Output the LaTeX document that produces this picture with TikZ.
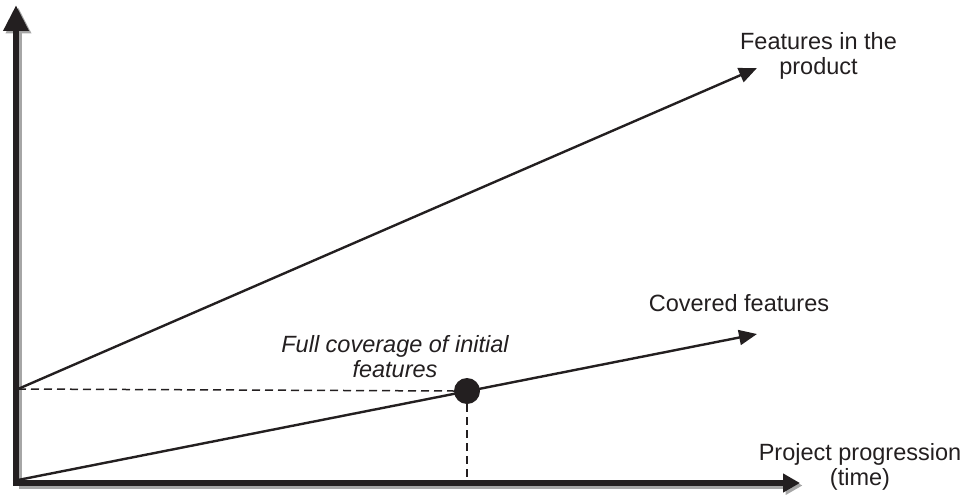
\documentclass[tikz,border=0pt]{standalone}
\usepackage{fontspec}
\setmainfont{Liberation Sans}
\usetikzlibrary{arrows.meta}
\definecolor{ink}{HTML}{231F20}
\begin{document}
\begin{tikzpicture}[x=1pt,y=-1pt,
  series/.style={draw=ink,line width=2.4pt,-{Triangle[length=18pt,width=15pt]}},
  guide/.style={draw=ink,line width=1.5pt,dash pattern=on 8pt off 5pt},
  lbl/.style={font=\fontsize{23.5}{25}\selectfont,align=center,text=ink,inner sep=0pt},
  ilbl/.style={font=\fontsize{23.5}{25}\selectfont\itshape,align=center,text=ink,inner sep=0pt}]
\useasboundingbox (0,0) rectangle (974,495);
% coordinates
\coordinate (O) at (16,483);
\coordinate (Ytop) at (16,5);
\coordinate (Xend) at (800,483);
\coordinate (Os) at (18.5,485.5);
\coordinate (Ytops) at (18.5,7.5);
\coordinate (Xends) at (802.5,485.5);
\coordinate (U0) at (18,389);
\coordinate (U1) at (757,68);
\coordinate (L0) at (18,480);
\coordinate (L1) at (757,334);
\coordinate (Xfoot) at (467,480);
% shadows
\draw[draw=black!35,fill=black!35,line width=6.5pt,-{Triangle[length=26pt,width=24pt]}] (Os) -- (Ytops);
\draw[draw=black!35,fill=black!35,line width=6.5pt,-{Triangle[length=17pt,width=18pt]}] (Os) -- (Xends);
% axes
\draw[draw=ink,fill=ink,line width=6.5pt,-{Triangle[length=26pt,width=24pt]}] (O) -- (Ytop);
\draw[draw=ink,fill=ink,line width=6.5pt,-{Triangle[length=17pt,width=18pt]}] ([xshift=-3.25pt]O) -- (Xend);
% series
\draw[series] (U0) -- (U1);
\draw[series] (L0) -- (L1);
\node[circle,fill=ink,minimum size=26pt,inner sep=0pt] (dot) at (467,391) {};
\draw[guide] (U0) -- (dot.west);
\draw[guide] (dot.south) -- (Xfoot);
% labels
\node[lbl] (top) at (818.5,55.5) {Features in the\\product};
\node[lbl] (cov) at (739,303.5) {Covered features};
\node[lbl] (prog) at (860,466.5) {Project progression\\(time)};
\node[ilbl] (full) at (395,356.5) {Full coverage of initial\\features};
\end{tikzpicture}
\end{document}
